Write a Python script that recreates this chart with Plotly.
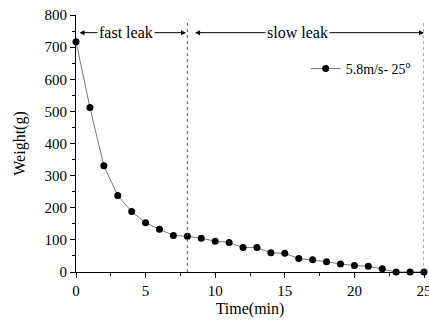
import plotly.graph_objects as go

time_min = list(range(0, 26))
weight_g = [717, 512, 331, 238, 188, 153, 133, 114, 111, 105, 96, 92, 76, 76, 60, 58,
            42, 38, 32, 25, 20, 18, 10, 0, 0, 0]
series_name = "5.8m/s- 25<sup>o</sup>"
x_ticks = [0, 5, 10, 15, 20, 25]
y_ticks = [0, 100, 200, 300, 400, 500, 600, 700, 800]
phase_bounds = [0, 8, 25]
phase_labels = ["fast leak", "slow leak"]
phase_label_x = [3.6, 15.9]
arrow_y = 745

FONT = "Liberation Serif"

fig = go.Figure()
fig.add_trace(go.Scatter(
    x=time_min, y=weight_g, mode="lines+markers", name=series_name,
    line=dict(color="#777777", width=1),
    marker=dict(color="black", size=7),
    cliponaxis=False,
))

# dashed separators
for xb in phase_bounds[1:]:
    fig.add_shape(type="line", x0=xb, x1=xb, y0=0, y1=775, xref="x", yref="y",
                  line=dict(color="#555555", width=1, dash="dot"))

# arrows for phases
for i, lab in enumerate(phase_labels):
    x0, x1 = phase_bounds[i], phase_bounds[i + 1]
    pad = 0.0 if i == 0 else 0.3
    fig.add_annotation(x=x1 - (0.1 if i == 0 else 0), y=arrow_y, ax=x0 + pad, ay=arrow_y,
                       xref="x", yref="y", axref="x", ayref="y", text=" ",
                       showarrow=True, arrowhead=2, arrowside="end+start",
                       arrowsize=1, arrowwidth=1, arrowcolor="black")
    fig.add_annotation(x=phase_label_x[i], y=arrow_y, xref="x", yref="y", text=lab,
                       showarrow=False, bgcolor="white", borderpad=1,
                       font=dict(family=FONT, size=16, color="black"))

fig.update_layout(
    width=429, height=326,
    margin=dict(l=76, r=5, t=15, b=54, autoexpand=False),
    paper_bgcolor="white", plot_bgcolor="white",
    font=dict(family=FONT, size=15, color="black"),
    showlegend=True,
    legend=dict(x=0.66, y=0.79, xanchor="left", yanchor="middle",
                bgcolor="rgba(0,0,0,0)", font=dict(family=FONT, size=14),
                itemwidth=30),
)
fig.update_xaxes(
    range=[0, 25], tickvals=x_ticks, showgrid=False, zeroline=False,
    showline=True, linecolor="black", linewidth=1, automargin=False,
    ticks="outside", ticklen=5, tickcolor="black", ticklabeloverflow="allow",
    minor=dict(ticks="outside", ticklen=3, dtick=2.5, tick0=0, tickcolor="black"),
    title=dict(text="Time(min)", font=dict(family=FONT, size=16), standoff=4),
    tickfont=dict(family=FONT, size=15),
)
fig.update_yaxes(
    range=[0, 800], tickvals=y_ticks, showgrid=False, zeroline=False,
    showline=True, linecolor="black", linewidth=1, automargin=False,
    ticks="outside", ticklen=5, tickcolor="black",
    minor=dict(ticks="outside", ticklen=3, dtick=50, tick0=0, tickcolor="black"),
    title=dict(text="Weight(g)", font=dict(family=FONT, size=16), standoff=14),
    tickfont=dict(family=FONT, size=15),
)

fig.write_html("out.html")
